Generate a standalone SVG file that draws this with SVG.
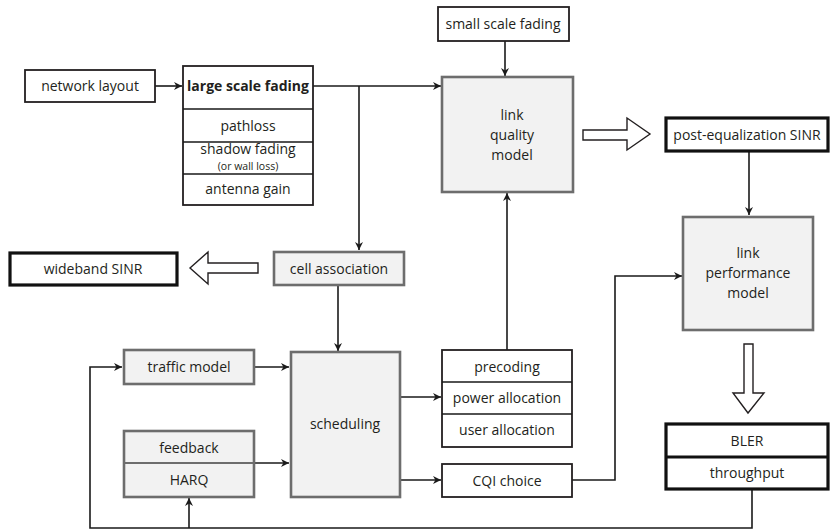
<svg xmlns="http://www.w3.org/2000/svg" width="830" height="530" viewBox="0 0 830 530">
<defs>
<marker id="ah" viewBox="0 0 10 10" refX="10" refY="5" markerWidth="8" markerHeight="8" markerUnits="userSpaceOnUse" orient="auto">
<path d="M0,0 L10,5 L0,10 L3,5 Z" fill="#1a1a1a"/>
</marker>
<style>
text{font-family:"Open Sans","Liberation Sans",sans-serif;font-size:14px;fill:#231f20;text-anchor:middle}
.sm{font-size:10.5px}
.b{font-weight:bold}
.w{fill:#fff;stroke:#231f20;stroke-width:1.8}
.g{fill:#f2f2f2;stroke:#6d6d6d;stroke-width:2.6}
.k{fill:#fff;stroke:#111;stroke-width:3.2}
.ln{fill:none;stroke:#1a1a1a;stroke-width:1.6}
.ba{fill:#fff;stroke:#231f20;stroke-width:1.4;stroke-linejoin:miter}
</style>
</defs>
<rect width="830" height="530" fill="#fff"/>
<g id="connectors">
<path class="ln" d="M155,86 H182" marker-end="url(#ah)"/>
<path class="ln" d="M313,86 H441" marker-end="url(#ah)"/>
<path class="ln" d="M359,86 V250" marker-end="url(#ah)"/>
<path class="ln" d="M505,41 V76" marker-end="url(#ah)"/>
<path class="ln" d="M749,152 V215" marker-end="url(#ah)"/>
<path class="ln" d="M338,286 V351" marker-end="url(#ah)"/>
<path class="ln" d="M254,367 H289" marker-end="url(#ah)"/>
<path class="ln" d="M254,463 H289" marker-end="url(#ah)"/>
<path class="ln" d="M400,397 H441" marker-end="url(#ah)"/>
<path class="ln" d="M400,480 H441" marker-end="url(#ah)"/>
<path class="ln" d="M507,350 V193" marker-end="url(#ah)"/>
<path class="ln" d="M572,480 H615 V276 H682" marker-end="url(#ah)"/>
<path class="ln" d="M752,490 V528 H90 V367 H122" marker-end="url(#ah)"/>
<path class="ln" d="M189,528 V498" marker-end="url(#ah)"/>
<path class="ba" d="M583,130 H627 V118 L650,134 L627,150 V140 H583 Z"/>
<path class="ba" d="M258,263 H208 V252 L190,268 L208,284 V273 H258 Z"/>
<path class="ba" d="M744,344 H753 V393 H764 L748,413 L733,393 H744 Z"/>
</g>
<g id="network-layout">
<rect class="w" x="25" y="70" width="130" height="32"/>
<text x="90" y="91">network layout</text>
</g>
<g id="large-scale-fading">
<rect class="w" x="183" y="66" width="130" height="139"/>
<path class="ln" d="M183,109 H313 M183,142 H313 M183,174 H313"/>
<text class="b" x="248" y="91">large scale fading</text>
<text x="248" y="131">pathloss</text>
<text x="248" y="154">shadow fading</text>
<text class="sm" x="248" y="169.5">(or wall loss)</text>
<text x="248" y="194">antenna gain</text>
</g>
<g id="small-scale-fading">
<rect class="w" x="438" y="7" width="131" height="34"/>
<text x="503" y="29">small scale fading</text>
</g>
<g id="link-quality-model">
<rect class="g" x="442" y="77" width="131" height="115"/>
<text x="512" y="120">link</text>
<text x="512" y="140">quality</text>
<text x="512" y="160">model</text>
</g>
<g id="post-equalization-sinr">
<rect class="k" x="666" y="118" width="162" height="33"/>
<text x="747" y="140">post-equalization SINR</text>
</g>
<g id="link-performance-model">
<rect class="g" x="683" y="217" width="130" height="113"/>
<text x="748" y="258">link</text>
<text x="748" y="278">performance</text>
<text x="748" y="298">model</text>
</g>
<g id="wideband-sinr">
<rect class="k" x="10" y="253" width="167" height="32"/>
<text x="93" y="274">wideband SINR</text>
</g>
<g id="cell-association">
<rect class="g" x="274" y="252" width="130" height="33"/>
<text x="339" y="274">cell association</text>
</g>
<g id="traffic-model">
<rect class="g" x="124" y="350" width="130" height="34"/>
<text x="189" y="372">traffic model</text>
</g>
<g id="feedback-harq">
<rect class="g" x="124" y="431" width="130" height="66"/>
<path d="M124,463 H254" stroke="#6d6d6d" stroke-width="2.2"/>
<text x="189" y="453">feedback</text>
<text x="189" y="485">HARQ</text>
</g>
<g id="scheduling">
<rect class="g" x="291" y="352" width="109" height="145"/>
<text x="345" y="429">scheduling</text>
</g>
<g id="precoding">
<rect class="w" x="442" y="350" width="130" height="97"/>
<path class="ln" d="M442,382 H572 M442,414 H572"/>
<text x="507" y="372">precoding</text>
<text x="507" y="403">power allocation</text>
<text x="507" y="435">user allocation</text>
</g>
<g id="cqi-choice">
<rect class="w" x="442" y="464" width="130" height="33"/>
<text x="507" y="486">CQI choice</text>
</g>
<g id="bler-throughput">
<rect class="k" x="666" y="424" width="162" height="65"/>
<path d="M666,457 H828" stroke="#111" stroke-width="3"/>
<text x="747" y="446">BLER</text>
<text x="747" y="478">throughput</text>
</g>
</svg>
